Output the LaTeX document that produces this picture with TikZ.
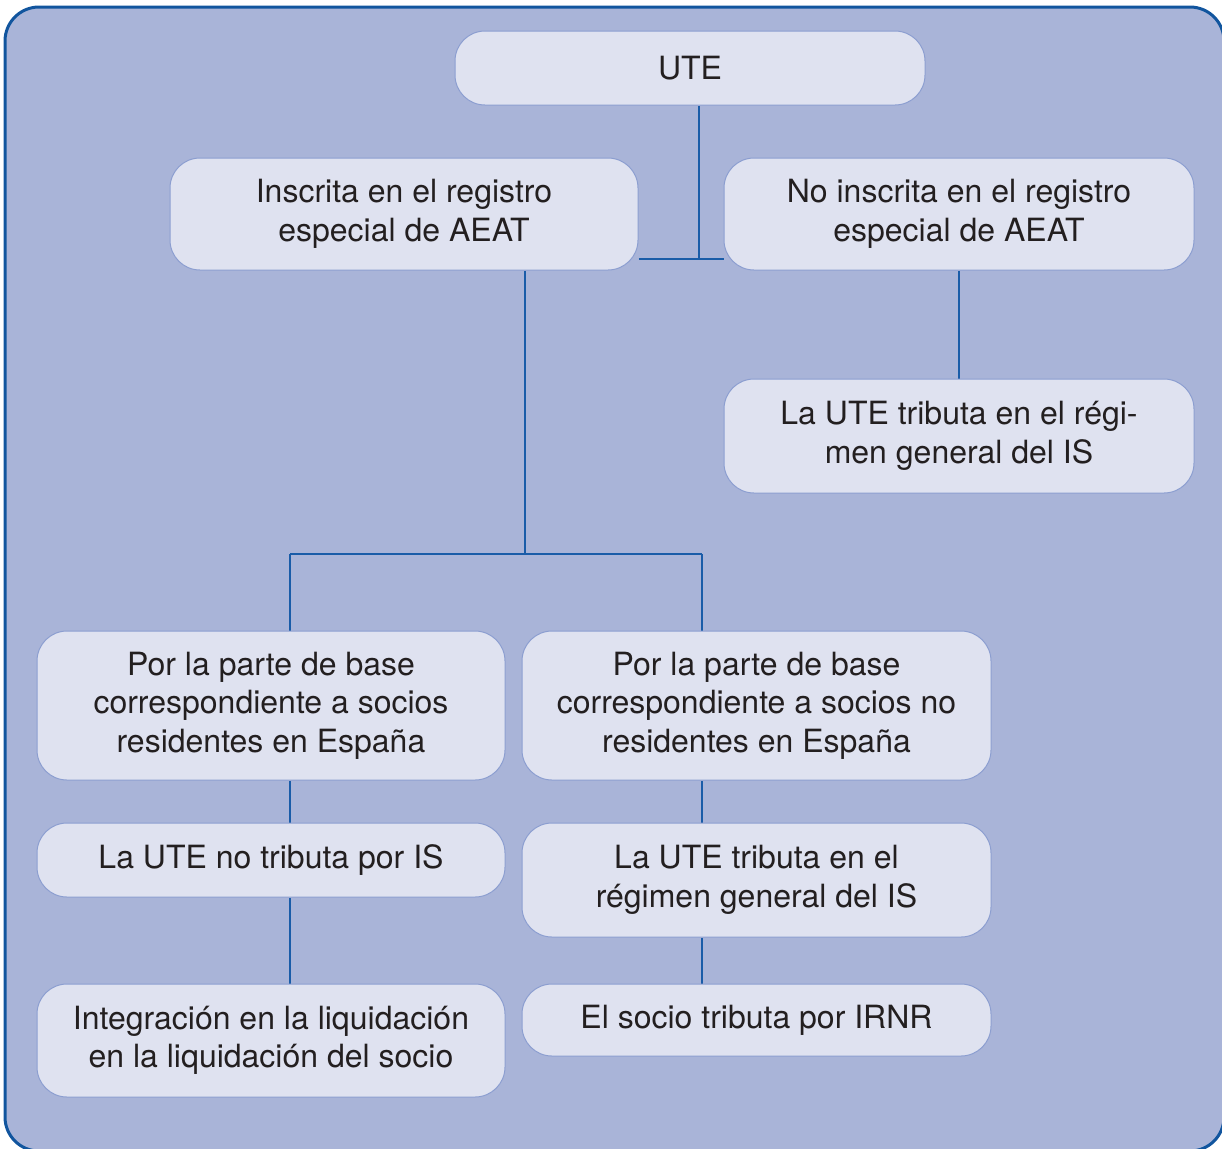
\documentclass[tikz,border=0pt]{standalone}
\usepackage{fontspec}
\setmainfont{TeX Gyre Heros}
\usetikzlibrary{backgrounds}
\definecolor{frameblue}{RGB}{17,85,158}
\definecolor{panel}{RGB}{169,180,216}
\definecolor{boxfill}{RGB}{223,226,240}
\definecolor{boxline}{RGB}{140,158,208}
\definecolor{linkblue}{RGB}{26,92,168}
\definecolor{ink}{RGB}{35,31,32}

\begin{document}
\begin{tikzpicture}[x=0.5pt,y=0.5pt,yscale=-1,
  box/.style={draw=boxline,line width=0.5pt,fill=boxfill,rounded corners=15pt,
    align=center,text=ink,inner sep=0pt,
    font=\fontsize{16}{19.25}\selectfont},
  link/.style={draw=linkblue,line width=0.6pt}]
\useasboundingbox (0,0) rectangle (1222,1148);

%Shape: Frame
\begin{scope}[on background layer]
\draw [frameblue,fill=panel,line width=1.5pt,rounded corners=17pt] (5,7) rectangle (1224,1151);
\end{scope}

% Text Node
\node [box,minimum width=235pt,minimum height=37pt] (ute) at (690,68) {UTE};
% Text Node
\node [box,minimum width=234pt,minimum height=56pt] (insc) at (404,214) {Inscrita en el registro\\especial de AEAT};
% Text Node
\node [box,minimum width=235pt,minimum height=56pt] (noinsc) at (959,214) {No inscrita en el registro\\especial de AEAT};
% Text Node
\node [box,minimum width=235pt,minimum height=57pt] (rgen) at (959,436) {La UTE tributa en el régi-\\men general del IS};
% Text Node
\node [box,minimum width=234pt,minimum height=74.5pt] (res) at (271,705.5) {Por la parte de base\\correspondiente a socios\\residentes en España};
% Text Node
\node [box,minimum width=234.5pt,minimum height=74.5pt] (nores) at (756.5,705.5) {Por la parte de base\\correspondiente a socios no\\residentes en España};
% Text Node
\node [box,minimum width=234pt,minimum height=37pt] (notrib) at (271,860) {La UTE no tributa por IS};
% Text Node
\node [box,minimum width=234.5pt,minimum height=57pt] (trib) at (756.5,880) {La UTE tributa en el\\régimen general del IS};
% Text Node
\node [box,minimum width=234pt,minimum height=56.5pt] (integ) at (271,1040.5) {Integración en la liquidación\\en la liquidación del socio};
% Text Node
\node [box,minimum width=234.5pt,minimum height=36pt] (irnr) at (756.5,1020) {El socio tributa por IRNR};

%Straight Lines
\coordinate (j1) at (699,259);
\coordinate (j2) at (525,554);
\coordinate (j3) at (290,554);
\coordinate (j4) at (702,554);
\begin{scope}[on background layer]
\draw [link] (ute.south -| j1) -- (j1);
\draw [link] (insc.east |- j1) -- (noinsc.west |- j1);
\draw [link] (noinsc.south) -- (rgen.north);
\draw [link] (insc.south -| j2) -- (j2);
\draw [link] (j3) -- (j4);
\draw [link] (j3) -- (res.north -| j3);
\draw [link] (j4) -- (nores.north -| j4);
\draw [link] (res.south -| j3) -- (notrib.north -| j3);
\draw [link] (notrib.south -| j3) -- (integ.north -| j3);
\draw [link] (nores.south -| j4) -- (trib.north -| j4);
\draw [link] (trib.south -| j4) -- (irnr.north -| j4);
\end{scope}

\end{tikzpicture}
\end{document}
